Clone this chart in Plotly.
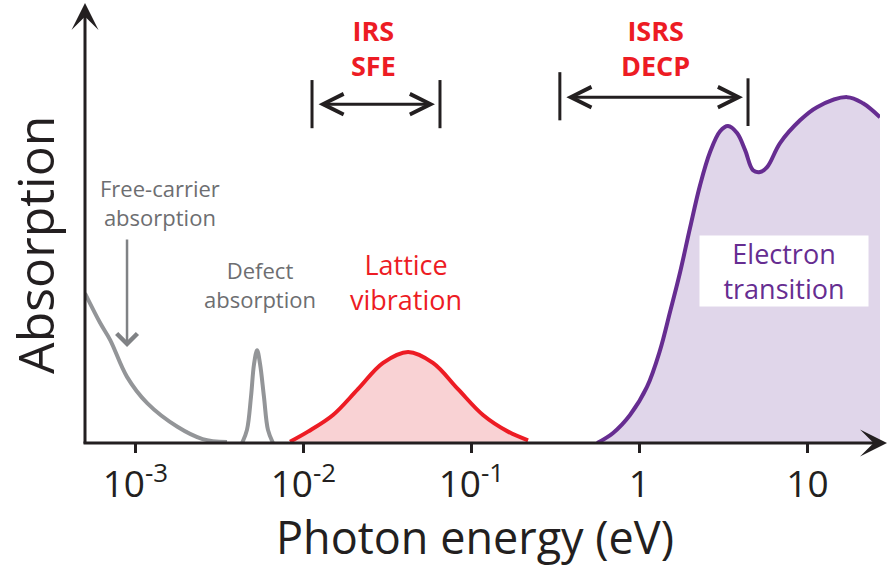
import numpy as np
import plotly.graph_objects as go

# ---------------- data ----------------
free_carrier_ev = [0.000501, 0.000617, 0.000708, 0.000891, 0.001175, 0.001778, 0.002512, 0.003508]
free_carrier_abs = [0.342, 0.274, 0.235, 0.151, 0.091, 0.037, 0.009, 0.002]

defect_ev = [0.004315, 0.004613, 0.004875, 0.00508, 0.0053, 0.00552, 0.00582, 0.00615, 0.00659]
defect_abs = [0.0, 0.03, 0.106, 0.18, 0.212, 0.18, 0.106, 0.03, 0.0]

lattice_ev = [0.00832, 0.01064, 0.0150, 0.0211, 0.0298, 0.0420, 0.0590, 0.0832, 0.1172, 0.1652, 0.2173]
lattice_abs = [0.003, 0.026, 0.064, 0.123, 0.183, 0.208, 0.183, 0.123, 0.064, 0.026, 0.006]

electron_ev = [0.560, 0.697, 0.879, 1.109, 1.327, 1.521, 1.746, 2.00, 2.296, 2.630, 3.020, 3.365,
               3.811, 4.256, 4.742, 5.224, 5.754, 6.871, 9.036, 11.40, 17.22, 21.43, 27.04]
electron_abs = [0.0, 0.023, 0.064, 0.128, 0.212, 0.299, 0.390, 0.491, 0.589, 0.664, 0.712, 0.724,
                0.708, 0.669, 0.623, 0.619, 0.630, 0.685, 0.737, 0.767, 0.790, 0.776, 0.744]

tick_vals = [0.001, 0.01, 0.1, 1, 10]
tick_text = ["10<sup>-3</sup>", "10<sup>-2</sup>", "10<sup>-1</sup>", "1", "10"]

x_range_ev = [0.000501, 27.04]

# technique ranges (eV) and bracket heights
irs_range_ev = [0.01125, 0.065]
irs_bar_abs = [[0.719, 0.829], [0.719, 0.829]]
irs_arrow_abs = 0.774
isrs_range_ev = [0.336, 4.43]
isrs_bar_abs = [[0.737, 0.847], [0.724, 0.833]]
isrs_arrow_abs = 0.790

# ---------------- styling ----------------
FONT = "Open Sans"
BLACK = "#231F20"
GRAY_LINE = "#939598"
GRAY_TEXT = "#6D6E71"
RED = "#ED1C24"
RED_FILL = "#F9D2D4"
PURPLE = "#662D91"
PURPLE_FILL = "#E0D6EA"

fig = go.Figure()

fig.add_trace(go.Scatter(x=free_carrier_ev, y=free_carrier_abs, mode="lines",
                         line=dict(color=GRAY_LINE, width=4, shape="spline"), hoverinfo="skip"))
fig.add_trace(go.Scatter(x=defect_ev, y=defect_abs, mode="lines",
                         line=dict(color=GRAY_LINE, width=4, shape="spline"), hoverinfo="skip"))
fig.add_trace(go.Scatter(x=lattice_ev, y=lattice_abs, mode="lines", fill="tozeroy",
                         fillcolor=RED_FILL,
                         line=dict(color=RED, width=4, shape="spline"), hoverinfo="skip"))
fig.add_trace(go.Scatter(x=electron_ev, y=electron_abs, mode="lines", fill="tozeroy",
                         fillcolor=PURPLE_FILL,
                         line=dict(color=PURPLE, width=4, shape="spline"), hoverinfo="skip"))

# bracket end bars
for rng, bars in ((irs_range_ev, irs_bar_abs), (isrs_range_ev, isrs_bar_abs)):
    fig.add_trace(go.Scatter(x=[rng[0], rng[0], None, rng[1], rng[1]],
                             y=[bars[0][0], bars[0][1], None, bars[1][0], bars[1][1]],
                             mode="lines", line=dict(color=BLACK, width=3), hoverinfo="skip"))

annotations = []

# double arrows (annotation coordinates on log axis are log10 values)
for rng, yy in ((irs_range_ev, irs_arrow_abs), (isrs_range_ev, isrs_arrow_abs)):
    lo, hi = np.log10(rng[0]), np.log10(rng[1])
    pad = 0.03
    annotations.append(dict(x=hi - pad, y=yy, ax=lo + pad, ay=yy, xref="x", yref="y",
                            axref="x", ayref="y", text="", showarrow=True,
                            arrowhead=5, startarrowhead=5, arrowside="end+start",
                            arrowsize=1.35, startarrowsize=1.35, arrowwidth=3,
                            arrowcolor=BLACK))

# axis arrows
annotations.append(dict(x=0, y=1, xref="paper", yref="paper", ax=0, ay=442,
                        axref="pixel", ayref="pixel", text="", showarrow=True,
                        arrowhead=3, arrowsize=1.5, arrowwidth=3, arrowcolor=BLACK))
annotations.append(dict(x=1.0101, y=0, xref="paper", yref="paper", ax=-806, ay=0,
                        axref="pixel", ayref="pixel", text="", showarrow=True,
                        arrowhead=3, arrowsize=1.5, arrowwidth=3, arrowcolor=BLACK))

# free-carrier arrow
annotations.append(dict(x=-3.05, y=0.219, ax=-3.05, ay=0.468, xref="x", yref="y",
                        axref="x", ayref="y", text="", showarrow=True,
                        arrowhead=4, arrowsize=1.6, arrowwidth=2.5, arrowcolor="#808285"))

# text labels
def label(text, ev, yy, size, color, bold=False, **kw):
    t = f"<b>{text}</b>" if bold else text
    d = dict(x=np.log10(ev), y=yy, xref="x", yref="y", text=t, showarrow=False,
             font=dict(family=FONT, size=size, color=color), align="center",
             xanchor="center", yanchor="middle")
    d.update(kw)
    annotations.append(d)

label("Free-carrier<br>absorption", 0.0014, 0.550, 22, GRAY_TEXT)
label("Defect<br>absorption", 0.00552, 0.361, 22, GRAY_TEXT)
label("Lattice<br>vibration", 0.0408, 0.367, 27, RED)
label("Electron<br>transition", 7.26, 0.393, 27, PURPLE, bgcolor="white",
      width=160, height=62, borderpad=4)
label("IRS<br>SFE", 0.026, 0.902, 27, RED, bold=True)
label("ISRS<br>DECP", 1.24, 0.902, 27, RED, bold=True)

# axis titles
annotations.append(dict(x=-0.063, y=0.45, xref="paper", yref="paper", text="Absorption",
                        textangle=-90, showarrow=False, xanchor="center", yanchor="middle",
                        font=dict(family=FONT, size=50, color=BLACK)))
annotations.append(dict(x=0.49, y=-0.212, xref="paper", yref="paper",
                        text="Photon energy (eV)", showarrow=False,
                        xanchor="center", yanchor="middle",
                        font=dict(family=FONT, size=45, color=BLACK)))

fig.update_layout(
    width=888, height=571,
    margin=dict(l=85, r=8, t=3, b=128),
    paper_bgcolor="white", plot_bgcolor="white",
    showlegend=False,
    annotations=annotations,
    xaxis=dict(type="log", range=[np.log10(x_range_ev[0]), np.log10(x_range_ev[1])],
               tickvals=tick_vals, ticktext=tick_text, ticks="outside", ticklen=9,
               tickwidth=2.5, tickcolor=BLACK, showgrid=False, zeroline=False,
               showline=False, tickfont=dict(family=FONT, size=37, color=BLACK)),
    yaxis=dict(range=[0, 1.005], visible=False, showgrid=False, zeroline=False),
)

fig.write_html("out.html")
